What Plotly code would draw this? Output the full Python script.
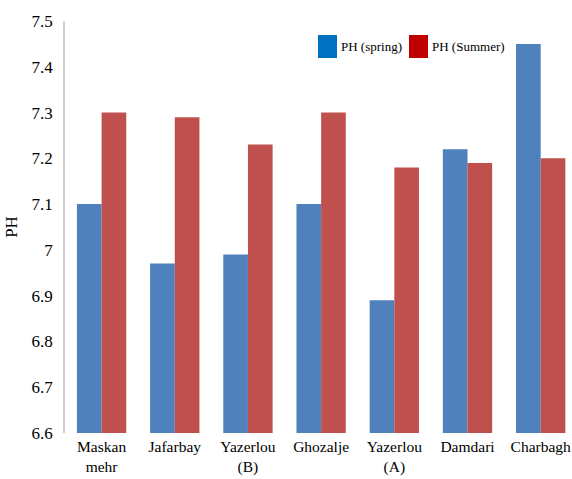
import plotly.graph_objects as go

# pH of water samples at each site, spring vs summer
sites = ["Maskan<br>mehr", "Jafarbay", "Yazerlou<br>(B)", "Ghozalje",
         "Yazerlou<br>(A)", "Damdari", "Charbagh"]
ph_spring = [7.10, 6.97, 6.99, 7.10, 6.89, 7.22, 7.45]
ph_summer = [7.30, 7.29, 7.23, 7.30, 7.18, 7.19, 7.20]
y_ticks = [6.6, 6.7, 6.8, 6.9, 7.0, 7.1, 7.2, 7.3, 7.4, 7.5]
y_tick_text = ["6.6", "6.7", "6.8", "6.9", "7", "7.1", "7.2", "7.3", "7.4", "7.5"]

serif = "Times New Roman, Liberation Serif, serif"
floor = 6.6
x_idx = list(range(len(sites)))

fig = go.Figure()
# bars start at the axis floor, so heights are value minus floor
fig.add_trace(go.Bar(x=x_idx, y=[v - floor for v in ph_spring], base=floor,
                     name="PH (spring)",
                     marker=dict(color="#4F81BD", line=dict(width=0))))
fig.add_trace(go.Bar(x=x_idx, y=[v - floor for v in ph_summer], base=floor,
                     name="PH (Summer)",
                     marker=dict(color="#C0504D", line=dict(width=0))))

W, H = 572, 479
ml, mr, mt, mb = 65, 0, 21, 46
pw, ph = W - ml - mr, H - mt - mb

def px(xp):
    return (xp - ml) / pw

def py(yp):
    return 1 - (yp - mt) / ph

# legend keys drawn as large swatches
legend_items = [("PH (spring)", "#0070C0", 318, 337),
                ("PH (Summer)", "#C00000", 409, 428)]
shapes = []
annotations = []
for label, col, x0, x1 in legend_items:
    shapes.append(dict(type="rect", xref="paper", yref="paper",
                       x0=px(x0), x1=px(x1), y0=py(58), y1=py(35),
                       fillcolor=col, line=dict(width=0), layer="above"))
    annotations.append(dict(xref="paper", yref="paper", x=px(x1 + 2), y=py(47),
                            text=label, showarrow=False, xanchor="left",
                            yanchor="middle",
                            font=dict(family=serif, size=13, color="#000000")))

fig.update_layout(
    width=W, height=H,
    margin=dict(l=ml, r=mr, t=mt, b=mb),
    paper_bgcolor="white", plot_bgcolor="white",
    barmode="group", bargap=0.326, bargroupgap=0,
    showlegend=False,
    shapes=shapes, annotations=annotations,
    font=dict(family=serif, color="#000000"),
    xaxis=dict(range=[-0.5, 6.428], tickmode="array", tickvals=x_idx,
               ticktext=sites, showgrid=False, zeroline=False,
               showline=False, ticks="", tickfont=dict(family=serif, size=15.5),
               tickangle=0, ticklabelstandoff=2, automargin=False),
    yaxis=dict(range=[floor, 7.5], tickmode="array", tickvals=y_ticks,
               ticktext=y_tick_text, showgrid=False, zeroline=False,
               showline=True, linecolor="#D0D0D0", linewidth=1.5,
               ticks="", tickfont=dict(family=serif, size=17), ticklabelstandoff=7,
               automargin=False,
               title=dict(text="PH", font=dict(family=serif, size=17), standoff=10)),
)

fig.write_html("out.html")
